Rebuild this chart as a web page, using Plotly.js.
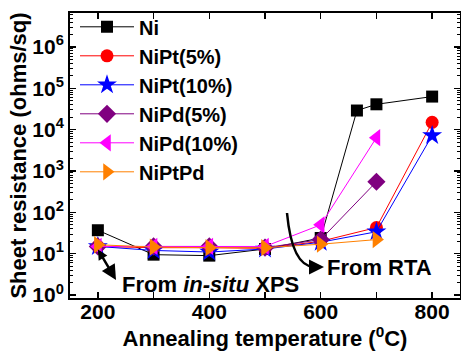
<!DOCTYPE html>
<html>
<head>
<meta charset="utf-8">
<script src="https://cdn.plot.ly/plotly-3.0.1.min.js"></script>
<style>html,body{margin:0;padding:0;background:#fff;}#chart{width:461px;height:353px;}</style>
</head>
<body>
<div id="chart"></div>
<script>
// Data
const seriesNames = ["Ni", "NiPt(5%)", "NiPt(10%)", "NiPd(5%)", "NiPd(10%)", "NiPtPd"];
const tempNi = [200, 300, 400, 500, 600, 665, 700, 800];
const resNi = [37, 9.5, 9, 13, 24, 29000, 41000, 63000];
const tempNiPt5 = [200, 300, 400, 500, 600, 700, 800];
const resNiPt5 = [15, 14, 14, 13.5, 20, 43, 15000];
const tempNiPt10 = [200, 300, 400, 500, 600, 700, 800];
const resNiPt10 = [15, 12, 11, 13, 19, 34, 7200];
const tempNiPd5 = [200, 300, 400, 500, 600, 700];
const resNiPd5 = [15, 15, 15, 14, 22, 550];
const tempNiPd10 = [200, 300, 400, 500, 600, 700];
const resNiPd10 = [15, 15, 15, 15, 50, 6400];
const tempNiPtPd = [200, 300, 400, 500, 600, 700];
const resNiPtPd = [16.5, 14.5, 14, 14, 17, 22];

const xTickVals = [200, 300, 400, 500, 600, 700, 800];
const xTickText = ["200", "", "400", "", "600", "", "800"];
const yTickVals = [1, 10, 100, 1000, 10000, 100000, 1000000];
const yTickText = ["10<sup>0</sup>", "10<sup>1</sup>", "10<sup>2</sup>", "10<sup>3</sup>", "10<sup>4</sup>", "10<sup>5</sup>", "10<sup>6</sup>"];

const FONT = "Liberation Sans, Arial, sans-serif";

const styles = [
  {color: "#000000", symbol: "square", size: 12},
  {color: "#ff0000", symbol: "circle", size: 13},
  {color: "#0000ff", symbol: "star", size: 15},
  {color: "#800080", symbol: "diamond", size: 14},
  {color: "#ff00ff", symbol: "triangle-left", size: 15},
  {color: "#ff8000", symbol: "triangle-right", size: 15}
];
const xs = [tempNi, tempNiPt5, tempNiPt10, tempNiPd5, tempNiPd10, tempNiPtPd];
const ys = [resNi, resNiPt5, resNiPt10, resNiPd5, resNiPd10, resNiPtPd];

const traces = seriesNames.map((n, i) => ({
  x: xs[i], y: ys[i], name: n, type: "scatter", mode: "lines+markers",
  line: {color: styles[i].color, width: 1},
  marker: {color: styles[i].color, symbol: styles[i].symbol, size: styles[i].size, line: {width: 0}}
}));

// plot area in px: x 70..460, y 13..298
const px = v => (v - 70) / 390;
const py = v => (298 - v) / 285;

const layout = {
  width: 461, height: 353,
  margin: {l: 70, r: 1, t: 13, b: 55},
  paper_bgcolor: "#fff", plot_bgcolor: "#fff",
  font: {family: FONT, size: 21, color: "#000", weight: "bold"},
  showlegend: true,
  legend: {
    x: px(75), y: 1.02, xanchor: "left", yanchor: "top",
    bgcolor: "rgba(0,0,0,0)", borderwidth: 0, maxheight: 1,
    font: {family: FONT, size: 20, color: "#000", weight: "bold"},
    itemwidth: 54, tracegroupgap: 0
  },
  xaxis: {
    range: [150, 850],
    tickmode: "array", tickvals: xTickVals, ticktext: xTickText,
    ticks: "inside", ticklen: 6, tickwidth: 1.5, tickcolor: "#000",
    ticklabelstandoff: -6,
    showline: true, linewidth: 2, linecolor: "#000", mirror: "allticks",
    showgrid: false, zeroline: false,
    tickfont: {family: FONT, size: 21, color: "#000", weight: "bold"},
    title: {text: "Annealing temperature (<sup>0</sup>C)", standoff: 2,
            font: {family: FONT, size: 22, color: "#000", weight: "bold"}}
  },
  yaxis: {
    type: "log", range: [-0.07, 6.82],
    tickmode: "array", tickvals: yTickVals, ticktext: yTickText,
    ticks: "inside", ticklen: 6, tickwidth: 1.5, tickcolor: "#000",
    minor: {dtick: "D1", ticks: "inside", ticklen: 3, tickwidth: 1, tickcolor: "#000", showgrid: false},
    showline: true, linewidth: 2, linecolor: "#000", mirror: "allticks",
    showgrid: false, zeroline: false,
    tickfont: {family: FONT, size: 21, color: "#000", weight: "bold"},
    title: {text: "Sheet resistance (ohms/sq)", standoff: 0,
            font: {family: FONT, size: 22, color: "#000", weight: "bold"}}
  },
  annotations: [
    {xref: "paper", yref: "paper", x: px(120), y: py(284), xanchor: "left", yanchor: "middle",
     text: "From <i>in-situ</i> XPS", showarrow: false,
     font: {family: FONT, size: 22, color: "#000", weight: "bold"}},
    {xref: "paper", yref: "paper", x: px(325), y: py(267), xanchor: "left", yanchor: "middle",
     text: "From RTA", showarrow: false,
     font: {family: FONT, size: 22, color: "#000", weight: "bold"}},
    {xref: "paper", yref: "paper", x: px(116), y: py(280), text: "", showarrow: true,
     axref: "pixel", ayref: "pixel", ax: -19, ay: -32,
     arrowhead: 2, arrowsize: 1.2, arrowwidth: 2.5, arrowcolor: "#000", startarrowhead: 2, arrowside: "end+start", startarrowsize: 0.8},
    {xref: "paper", yref: "paper", x: px(324), y: py(267), text: "", showarrow: true,
     ax: -12, ay: 0, arrowhead: 2, arrowsize: 1.2, arrowwidth: 2.5, arrowcolor: "#000"}
  ],
  shapes: [
    {type: "path", xref: "paper", yref: "paper",
     path: "M " + px(287) + " " + py(213) + " Q " + px(292) + " " + py(266) + " " + px(314) + " " + py(267),
     line: {color: "#000", width: 2.5}}
  ]
};

Plotly.newPlot("chart", traces, layout, {displayModeBar: false, staticPlot: true});
</script>
</body>
</html>
